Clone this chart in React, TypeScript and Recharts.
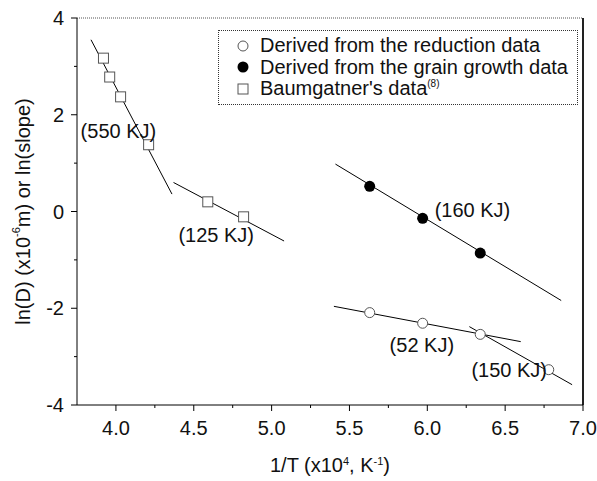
import { ScatterChart, Scatter, XAxis, YAxis, ReferenceLine, ReferenceDot, Legend } from 'recharts';

const FONT = '"Liberation Sans", Arial, Helvetica, sans-serif';

// measured points
const reductionData = [
  { x: 5.63, y: -2.09 },
  { x: 5.97, y: -2.31 },
  { x: 6.34, y: -2.54 },
  { x: 6.78, y: -3.27 },
];
const grainData = [
  { x: 5.63, y: 0.52 },
  { x: 5.97, y: -0.14 },
  { x: 6.34, y: -0.86 },
];
const baumData = [
  { x: 3.92, y: 3.17 },
  { x: 3.96, y: 2.78 },
  { x: 4.03, y: 2.37 },
  { x: 4.21, y: 1.38 },
  { x: 4.59, y: 0.2 },
  { x: 4.82, y: -0.11 },
];

// fitted lines (end points)
const fit550 = [{ x: 3.84, y: 3.55 }, { x: 4.36, y: 0.36 }];
const fit125 = [{ x: 4.37, y: 0.6 }, { x: 5.08, y: -0.61 }];
const fit160 = [{ x: 5.41, y: 0.98 }, { x: 6.86, y: -1.84 }];
const fit52 = [{ x: 5.4, y: -1.96 }, { x: 6.6, y: -2.69 }];
const fit150 = [{ x: 6.27, y: -2.38 }, { x: 6.93, y: -3.58 }];
const fits = [fit550, fit125, fit160, fit52, fit150];

const annotations = [
  { x: 4.016, y: 1.67, text: '(550 KJ)' },
  { x: 4.644, y: -0.48, text: '(125 KJ)' },
  { x: 6.29, y: 0.03, text: '(160 KJ)' },
  { x: 5.965, y: -2.76, text: '(52 KJ)' },
  { x: 6.526, y: -3.27, text: '(150 KJ)' },
];

const xTicks = [4, 4.25, 4.5, 4.75, 5, 5.25, 5.5, 5.75, 6, 6.25, 6.5, 6.75, 7];
const xMajor = [4, 4.5, 5, 5.5, 6, 6.5, 7];
const yTicks = [-4, -3, -2, -1, 0, 1, 2, 3, 4];
const yMajor = [-4, -2, 0, 2, 4];

const OpenCircle = (p: any) => (
  <circle cx={p.cx} cy={p.cy} r={5} fill="#fff" stroke="#555" strokeWidth={1} />
);
const FilledCircle = (p: any) => <circle cx={p.cx} cy={p.cy} r={5.5} fill="#000" />;
const OpenSquare = (p: any) => (
  <rect x={p.cx - 5} y={p.cy - 5} width={10} height={10} fill="#fff" stroke="#555" strokeWidth={1} />
);
const NoShape = () => <g />;

const XTick = ({ x, y, payload }: any) => {
  const major = xMajor.includes(payload.value);
  return (
    <g>
      <line x1={x} x2={x} y1={y} y2={y + (major ? 6 : 3)} stroke="#000" />
      {major && (
        <text x={x} y={y + 30} textAnchor="middle" fontSize={20} fontFamily={FONT} fill="#111">
          {payload.value.toFixed(1)}
        </text>
      )}
    </g>
  );
};

const YTick = ({ x, y, payload }: any) => {
  const major = yMajor.includes(payload.value);
  return (
    <g>
      <line x1={x} x2={x - (major ? 6 : 3)} y1={y} y2={y} stroke="#000" />
      {major && (
        <text x={x - 13} y={y + 7} textAnchor="end" fontSize={20} fontFamily={FONT} fill="#111">
          {payload.value}
        </text>
      )}
    </g>
  );
};

const XTitle = ({ viewBox }: any) => {
  const cx = viewBox.x + viewBox.width / 2;
  return (
    <text x={cx} y={viewBox.y + 67} textAnchor="middle" fontSize={20} fontFamily={FONT} fill="#111">
      1/T (x10
      <tspan dy={-7} fontSize={11}>4</tspan>
      <tspan dy={7}>, K</tspan>
      <tspan dy={-7} fontSize={11}>-1</tspan>
      <tspan dy={7}>)</tspan>
    </text>
  );
};

const YTitle = ({ viewBox }: any) => {
  const cx = 23;
  const cy = viewBox.y + viewBox.height / 2;
  return (
    <text
      x={cx}
      y={cy}
      transform={`rotate(-90 ${cx} ${cy})`}
      textAnchor="middle"
      dominantBaseline="central"
      fontSize={20}
      fontFamily={FONT}
      fill="#111"
    >
      ln(D) (x10
      <tspan dy={-7} fontSize={11}>-6</tspan>
      <tspan dy={7}>m) or ln(slope)</tspan>
    </text>
  );
};

const legendItems = [
  { shape: 'open-circle', label: 'Derived from the reduction data' },
  { shape: 'filled-circle', label: 'Derived from the grain growth data' },
  { shape: 'square', label: "Baumgatner's data" },
];

const LegendMarker = ({ shape }: { shape: string }) => (
  <svg width={14} height={14} style={{ marginRight: 10, flexShrink: 0 }}>
    {shape === 'open-circle' && <circle cx={7} cy={7} r={5} fill="#fff" stroke="#555" />}
    {shape === 'filled-circle' && <circle cx={7} cy={7} r={5.5} fill="#000" />}
    {shape === 'square' && <rect x={2} y={2} width={10} height={10} fill="#fff" stroke="#555" />}
  </svg>
);

const LegendBox = () => (
  <div
    style={{
      border: '1px dotted #333',
      width: 360,
      height: 75,
      boxSizing: 'border-box',
      padding: '4px 0 0 17px',
      fontFamily: FONT,
      fontSize: 20,
      color: '#111',
      background: '#fff',
    }}
  >
    {legendItems.map((it) => (
      <div key={it.label} style={{ display: 'flex', alignItems: 'center', height: 21.5 }}>
        <LegendMarker shape={it.shape} />
        <span style={{ whiteSpace: 'nowrap' }}>
          {it.label}
          {it.shape === 'square' && <sup style={{ fontSize: 10 }}>(8)</sup>}
        </span>
      </div>
    ))}
  </div>
);

export default function App() {
  return (
    <div style={{ position: 'absolute', left: 0, top: 0, width: 597, height: 481, background: '#fff' }}>
      <ScatterChart width={597} height={481} margin={{ top: 18, right: 14, bottom: 0, left: 0 }}>
        <XAxis
          type="number"
          dataKey="x"
          domain={[3.75, 7]}
          ticks={xTicks}
          tick={<XTick />}
          tickSize={0}
          tickMargin={0}
          tickLine={false}
          height={76}
          axisLine={{ stroke: '#000' }}
          allowDataOverflow
          label={<XTitle />}
        />
        <YAxis
          type="number"
          dataKey="y"
          domain={[-4, 4]}
          ticks={yTicks}
          tick={<YTick />}
          tickSize={0}
          tickMargin={0}
          tickLine={false}
          width={77}
          axisLine={{ stroke: '#000' }}
          allowDataOverflow
          label={<YTitle />}
        />
        <ReferenceLine y={4} stroke="#555" strokeDasharray="1 1" />
        <ReferenceLine x={7} stroke="#222" strokeWidth={2} />
        <Legend
          layout="horizontal"
          verticalAlign="middle"
          align="center"
          content={<LegendBox />}
          wrapperStyle={{ position: 'absolute', left: 218, top: 30, width: 360 }}
        />
        {fits.map((f, i) => (
          <Scatter
            key={i}
            data={f}
            line={{ stroke: '#000', strokeWidth: 1 }}
            shape={NoShape}
            legendType="none"
            isAnimationActive={false}
          />
        ))}
        <Scatter name="Derived from the reduction data" data={reductionData} shape={OpenCircle} isAnimationActive={false} />
        <Scatter name="Derived from the grain growth data" data={grainData} shape={FilledCircle} isAnimationActive={false} />
        <Scatter name="Baumgatner's data" data={baumData} shape={OpenSquare} isAnimationActive={false} />
        {annotations.map((a) => (
          <ReferenceDot
            key={a.text}
            x={a.x}
            y={a.y}
            r={0}
            shape={(p: any) => (
              <text x={p.cx} y={p.cy + 7} textAnchor="middle" fontSize={20} fontFamily={FONT} fill="#111">
                {a.text}
              </text>
            )}
          />
        ))}
      </ScatterChart>
    </div>
  );
}
